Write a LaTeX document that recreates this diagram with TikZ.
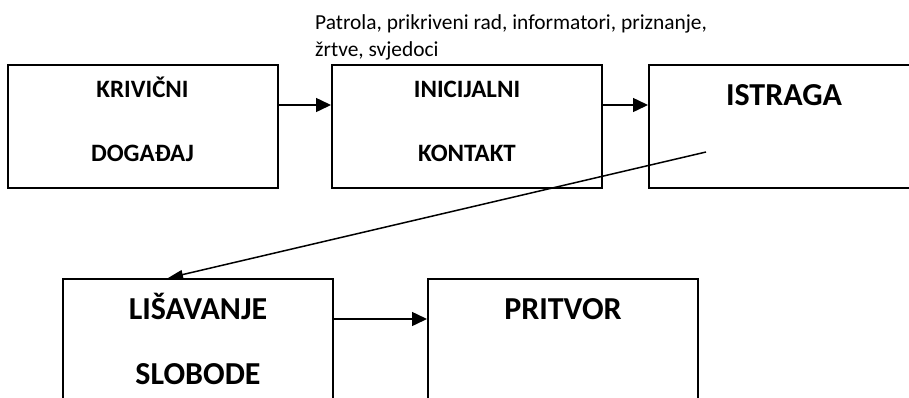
\documentclass[tikz,border=0pt]{standalone}
\usepackage{fontspec}
\setmainfont{Carlito}
\usetikzlibrary{arrows.meta, positioning}

\begin{document}
\begin{tikzpicture}[
  x=1pt, y=-1pt,
  box/.style={draw, line width=2pt, minimum width=270pt, minimum height=123pt, align=center, inner sep=0pt},
  small/.style={font=\fontsize{25}{64}\selectfont\bfseries, text height=69pt, text depth=0pt},
  big/.style={font=\fontsize{32}{65}\selectfont\bfseries, text height=87pt, text depth=0pt},
  note/.style={font=\fontsize{21.4}{27}\selectfont, align=left, inner sep=0pt},
  arr/.style={-{Triangle[length=15pt, width=14pt]}, line width=1.5pt},
  diag/.style={-{Triangle[length=15pt, width=9pt]}, line width=1.5pt}
]
  \useasboundingbox (0,0) rectangle (909,397);

  % first row
  \node[box, small] (krivicni)   at (142.5,126.5) {KRIVIČNI\\DOGAĐAJ};
  \node[box, small] (inicijalni) at (467,126.5)   {INICIJALNI\\KONTAKT};
  \node[box, big]   (istraga)    at (784,126.5)   {ISTRAGA\\~};

  % note above the contact box
  \node[note, anchor=north west] (izvori) at (315,14)
    {Patrola, prikriveni rad, informatori, priznanje,\\žrtve, svjedoci};

  % second row
  \node[box, big] (lisavanje) at (198,340.5) {LIŠAVANJE\\SLOBODE};
  \node[box, big] (pritvor)   at (563,340.5) {PRITVOR\\~};

  % arrows
  \draw[arr] ([yshift=21.5pt]krivicni.east)   -- ([yshift=21.5pt]inicijalni.west);
  \draw[arr] ([yshift=21.5pt]inicijalni.east) -- ([yshift=21.5pt]istraga.west);
  \draw[arr] ([yshift=21.5pt]lisavanje.east)  -- ([yshift=21.5pt]pritvor.west);
  \coordinate (istragaKraj) at (706,152);
  \draw[diag] (istragaKraj) -- ([xshift=-30pt]lisavanje.north);
\end{tikzpicture}
\end{document}
